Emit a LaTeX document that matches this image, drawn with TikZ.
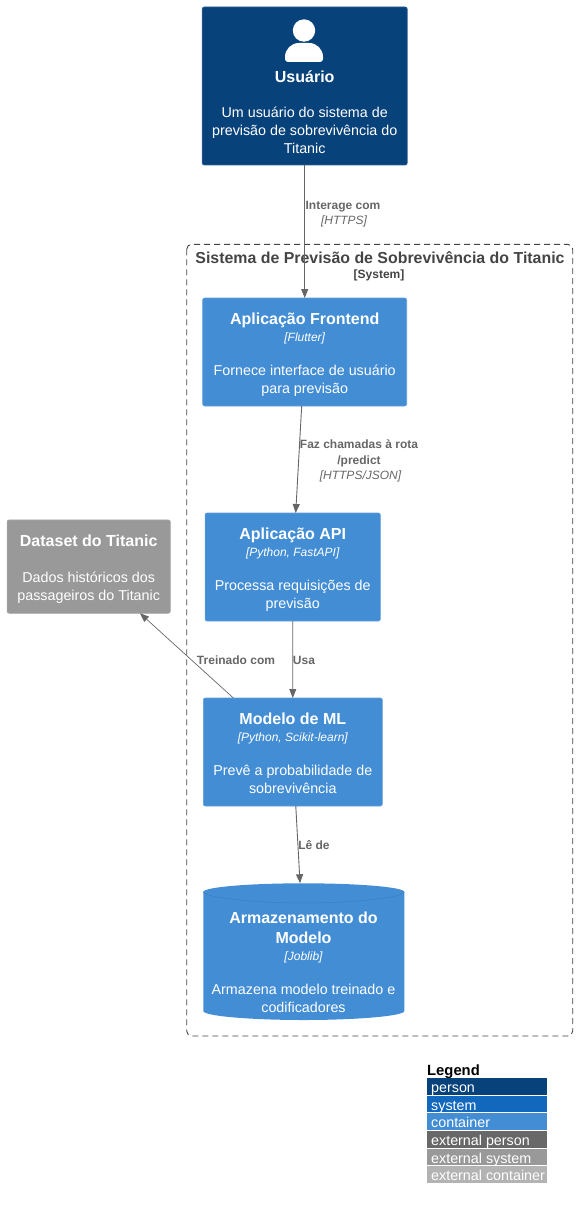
\documentclass[tikz,border=0pt]{standalone}
\usepackage{fontspec}
\setmainfont{Liberation Sans}
\usepackage{xcolor}
\usetikzlibrary{arrows.meta}

\definecolor{personblue}{HTML}{08427B}
\definecolor{systemblue}{HTML}{1168BD}
\definecolor{containerblue}{HTML}{438DD5}
\definecolor{extperson}{HTML}{686868}
\definecolor{extsystem}{HTML}{999999}
\definecolor{extcontainer}{HTML}{B3B3B3}
\definecolor{linkgray}{HTML}{666666}
\definecolor{boundarygray}{HTML}{444444}

\newcommand{\boxmore}[1]{{\fontsize{16}{18}\selectfont\bfseries #1}}
\newcommand{\boxtitle}[1]{\boxmore{\rule{0pt}{17.5pt}#1}}
\newcommand{\boxtech}[1]{{\fontsize{12}{14}\selectfont\itshape #1}}

\tikzset{
  boxnode/.style={rectangle,rounded corners=2pt,text=white,align=center,inner sep=0pt,outer sep=0pt,text depth=3pt,
    font=\fontsize{14.3}{18}\selectfont},
  containerbox/.style={boxnode,fill=containerblue,draw=containerblue!85!white,line width=0.6pt,minimum height=108pt},
  link/.style={draw=linkgray,line width=0.9pt,-{Triangle[length=9pt,width=7pt]}},
  linklabel/.style={text=linkgray,align=center,inner sep=0pt,font=\fontsize{12}{16}\selectfont\bfseries},
  linktech/.style={text=linkgray,align=center,inner sep=0pt,font=\fontsize{12}{16}\selectfont\itshape},
  legendrow/.style={rectangle,inner sep=0pt,minimum width=120pt,minimum height=16.6pt},
  legendtext/.style={anchor=base west,inner sep=0pt,text=white,font=\fontsize{14.3}{16}\selectfont},
}

\begin{document}
\begin{tikzpicture}[x=1pt,y=-1pt]
\useasboundingbox (0,0) rectangle (577,1209);

% System boundary
\draw[boundarygray,line width=0.9pt,dash pattern=on 6pt off 4pt,rounded corners=5pt] (186.7,244.3) rectangle (572.7,1036);
\node[text=boundarygray,inner sep=0pt,font=\fontsize{15.9}{18}\selectfont\bfseries] (systemtitle) at (380,258) {Sistema de Previsão de Sobrevivência do Titanic};
\node[text=boundarygray,inner sep=0pt,font=\fontsize{12}{14}\selectfont\bfseries] (systemtag) at (379,275) {[System]};

% User
\node[boxnode,fill=personblue,draw=personblue!85!white,line width=0.6pt,minimum width=205pt,minimum height=158pt] (usuario) at (304.7,86) {};
\fill[white] (304,30.5) circle (11.2pt);
\fill[white,rounded corners=3pt] (304,62) -- (285,62) [rounded corners=14pt] -- (285,43) -- (323,43) [rounded corners=3pt] -- (323,62) -- cycle;
\node[boxnode] (usuariotext) at (304.7,111) {\boxtitle{Usuário}\\[17pt]Um usuário do sistema de\\previsão de sobrevivência do\\Titanic};

% Containers
\node[containerbox,minimum width=204pt] (frontend) at (304.7,352) {\boxtitle{Aplicação Frontend}\\[-1pt]\boxtech{[Flutter]}\\[16pt]Fornece interface de usuário\\para previsão};
\node[containerbox,minimum width=175.3pt] (api) at (292.7,567) {\boxtitle{Aplicação API}\\[-1pt]\boxtech{[Python, FastAPI]}\\[16pt]Processa requisições de\\previsão};
\node[containerbox,minimum width=179pt] (modelo) at (292.8,752) {\boxtitle{Modelo de ML}\\[-1pt]\boxtech{[Python, Scikit-learn]}\\[16pt]Prevê a probabilidade de\\sobrevivência};

% Storage
\node[inner sep=0pt,outer sep=0pt,minimum width=201pt,minimum height=136.7pt] (armazenamento) at (303.8,951.6) {};
\fill[containerblue] (203.3,892) .. controls (203.3,887) and (250,883.3) .. (303.8,883.3) .. controls (357,883.3) and (404.3,887) .. (404.3,892)
  -- (404.3,1011) .. controls (404.3,1016) and (357,1020) .. (303.8,1020) .. controls (250,1020) and (203.3,1016) .. (203.3,1011) -- cycle;
\draw[containerblue!90!black,line width=0.5pt] (203.3,892) .. controls (203.3,897) and (250,903) .. (303.8,903) .. controls (357,903) and (404.3,897) .. (404.3,892);
\node[boxnode] (armazenamentotext) at (303.5,961) {\boxtitle{Armazenamento do}\\[2pt]\boxmore{Modelo}\\[-1pt]\boxtech{[Joblib]}\\[16pt]Armazena modelo treinado e\\codificadores};

% External dataset
\node[boxnode,fill=extsystem,draw=extsystem!85!white,line width=0.6pt,minimum width=163.3pt,minimum height=93.3pt] (dataset) at (88.7,566.6) {\boxtitle{Dataset do Titanic}\\[18pt]Dados históricos dos\\passageiros do Titanic};

% Connectors
\draw[link] (usuario) -- (frontend);
\draw[link] (frontend) -- (api);
\draw[link] (api) -- (modelo);
\draw[link,line width=0.7pt] (modelo) -- (dataset);
\draw[link] (modelo) -- (armazenamento);

% Connector labels
\node[linklabel] (interage) at (343,206.5) {Interage com};
\node[linktech] (interagetech) at (344,221) {[HTTPS]};
\node[linklabel] (chamadas) at (359,453) {Faz chamadas à rota\\/predict};
\node[linktech] (chamadastech) at (360.5,476.5) {[HTTPS/JSON]};
\node[linklabel] (treinado) at (236,660) {Treinado com};
\node[linklabel] (usa) at (304,660) {Usa};
\node[linklabel] (lede) at (314,845) {Lê de};

% Legend
\node[anchor=base west,inner sep=0pt,font=\fontsize{14.8}{16}\selectfont\bfseries] (legendtitle) at (427,1075) {Legend};
\node[legendrow,fill=personblue] (rowperson) at (487,1086.6) {};
\node[legendrow,fill=systemblue] (rowsystem) at (487,1104) {};
\node[legendrow,fill=containerblue] (rowcontainer) at (487,1121.5) {};
\node[legendrow,fill=extperson] (rowextperson) at (487,1139.5) {};
\node[legendrow,fill=extsystem] (rowextsystem) at (487,1157) {};
\node[legendrow,fill=extcontainer] (rowextcontainer) at (487,1174.5) {};
\node[legendtext] (textperson) at (431,1092) {person};
\node[legendtext] (textsystem) at (431,1110) {system};
\node[legendtext] (textcontainer) at (431,1127) {container};
\node[legendtext] (textextperson) at (431,1145) {external person};
\node[legendtext] (textextsystem) at (431,1163) {external system};
\node[legendtext] (textextcontainer) at (431,1180) {external container};
\end{tikzpicture}
\end{document}
